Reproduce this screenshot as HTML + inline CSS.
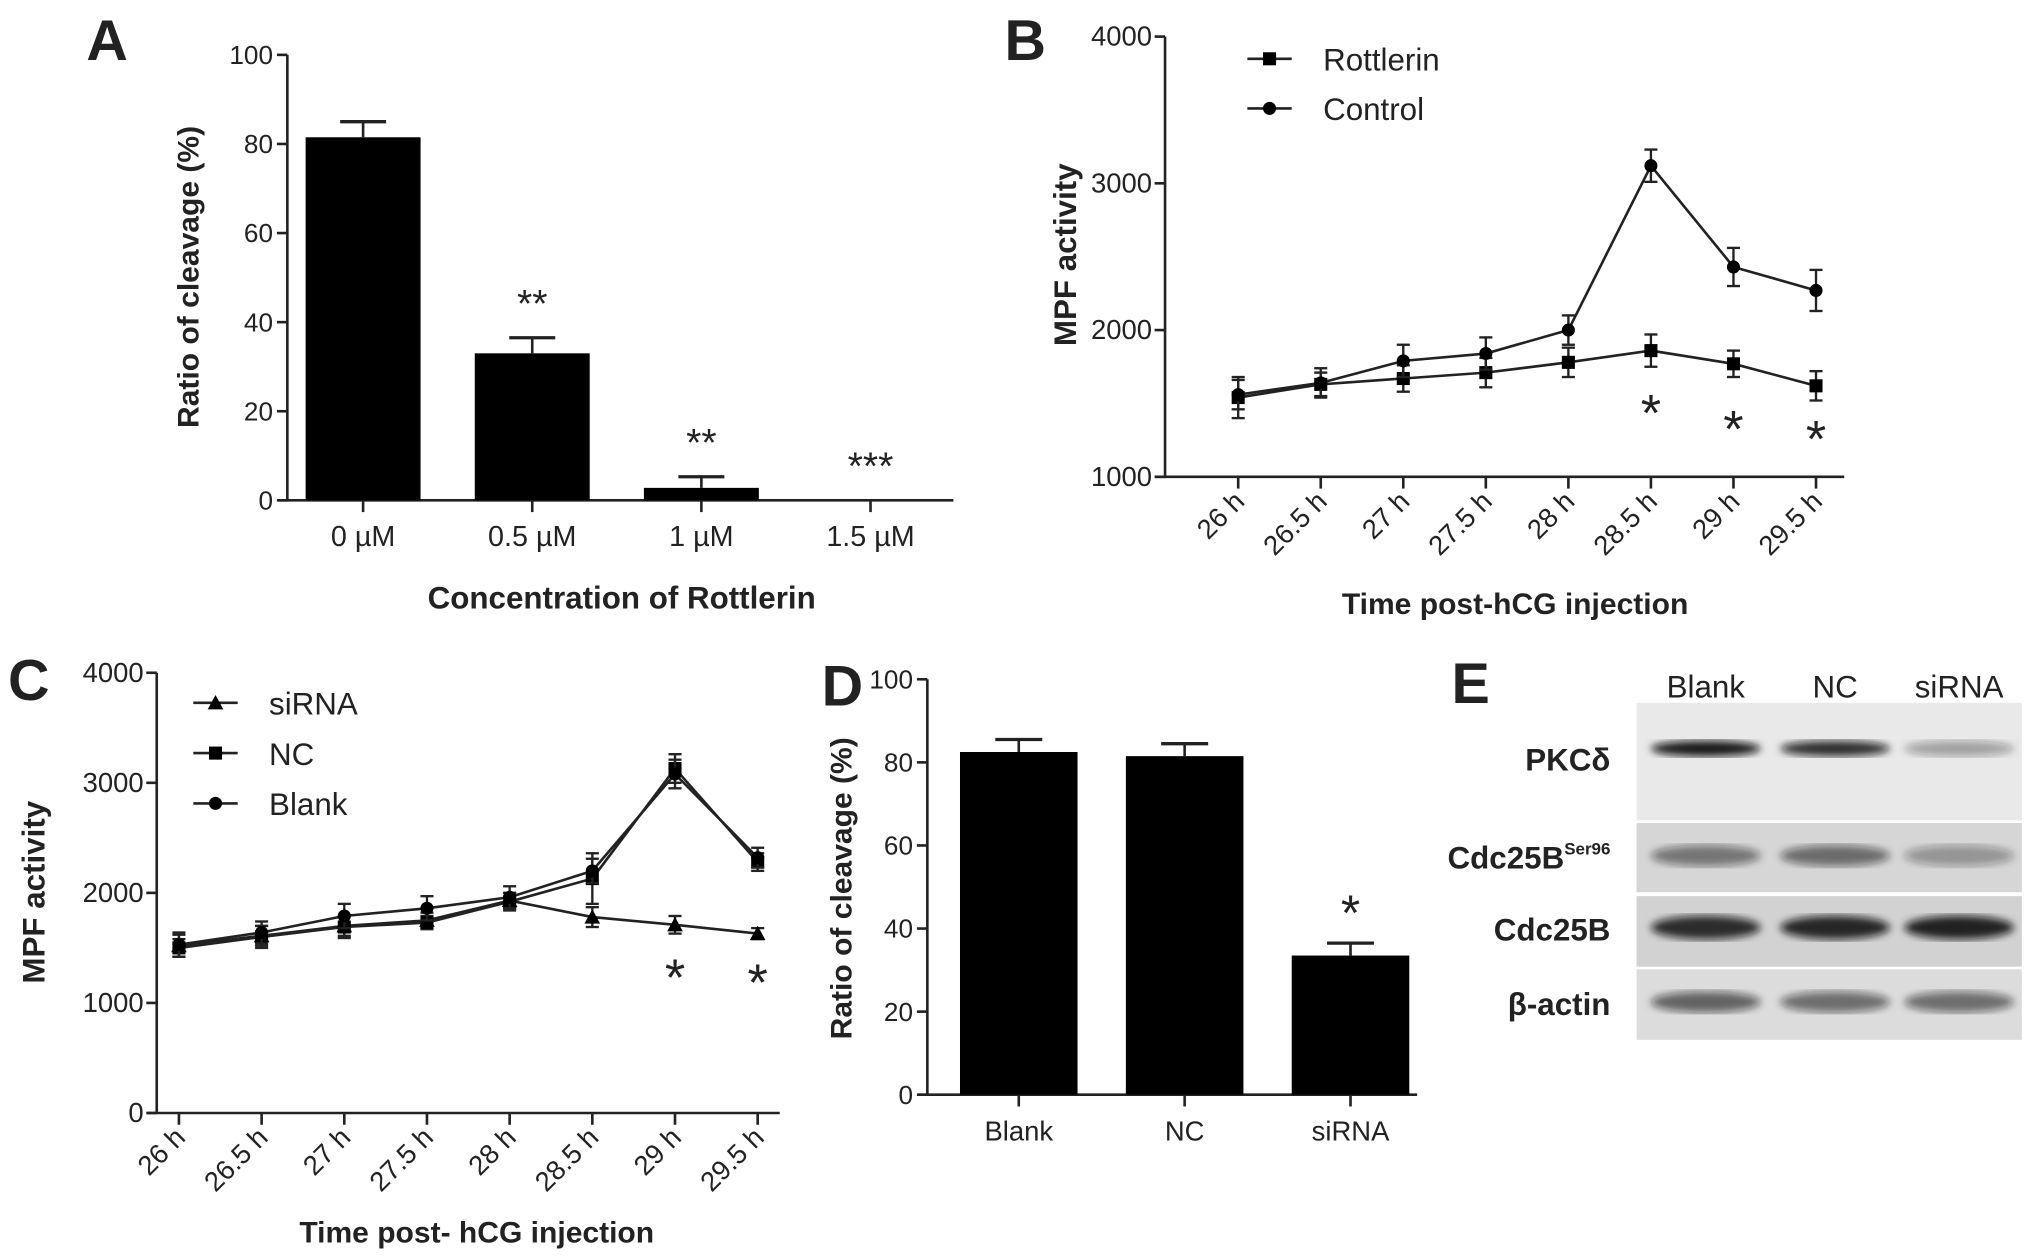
<!DOCTYPE html>
<html><head><meta charset="utf-8">
<style>
html,body{margin:0;padding:0;background:#fff;}
svg{display:block;}
text{font-family:"Liberation Sans Narrow","Liberation Sans",sans-serif;fill:#222;}
.b{font-family:"Liberation Sans",sans-serif;font-weight:bold;}
</style></head>
<body>
<svg id="fig" width="2031" height="1258" viewBox="0 0 1555 963" preserveAspectRatio="none" xmlns="http://www.w3.org/2000/svg">
<defs>
<filter id="blur3"><feGaussianBlur stdDeviation="3"/></filter>
</defs>
<g id="root"></g>
</svg>
<script>
// ---- Panel A data ----
const aCats = ["0 µM","0.5 µM","1 µM","1.5 µM"];
const aVals = [81.5, 33, 2.8, 0];
const aErr = [3.5, 3.5, 2.5, 0];
const aStars = ["", "**", "**", "***"];
const aTicks = [0,20,40,60,80,100];
// ---- Panel B data ----
const bCats = ["26 h","26.5 h","27 h","27.5 h","28 h","28.5 h","29 h","29.5 h"];
const bRott = [1540,1630,1670,1710,1780,1860,1770,1620];
const bRottErr = [140,80,90,100,100,110,90,100];
const bCtrl = [1560,1640,1790,1840,2000,3120,2430,2270];
const bCtrlErr = [100,100,110,110,100,110,130,140];
const bStars = ["","","","","","*","*","*"];
const bTicks = [1000,2000,3000,4000];
// ---- Panel C data ----
const cCats = ["26 h","26.5 h","27 h","27.5 h","28 h","28.5 h","29 h","29.5 h"];
const cSi = [1520,1610,1700,1750,1930,1780,1710,1630];
const cSiErr = [100,90,90,70,70,90,80,50];
const cNC = [1500,1600,1690,1730,1920,2130,3130,2280];
const cNCErr = [80,100,100,60,80,230,130,80];
const cBlank = [1530,1640,1790,1860,1960,2200,3080,2320];
const cBlankErr = [110,100,110,110,100,110,130,90];
const cStars = ["","","","","","","*","*"];
const cTicks = [0,1000,2000,3000,4000];
// ---- Panel D data ----
const dCats = ["Blank","NC","siRNA"];
const dVals = [82.5, 81.5, 33.5];
const dErr = [3, 3, 3];
const dStars = ["","","*"];
const dTicks = [0,20,40,60,80,100];

const NS="http://www.w3.org/2000/svg";
const root=document.getElementById('root');
function mk(tag, attrs, parent, txt){
  const e=document.createElementNS(NS,tag);
  for(const k in attrs) e.setAttribute(k,attrs[k]);
  if(txt!==undefined) e.textContent=txt;
  (parent||root).appendChild(e);
  return e;
}
function grp(name){
  const g=mk('g',{});
  
  
  return g;
}
function lin(x1,y1,x2,y2,p,w){return mk('line',{x1,y1,x2,y2,stroke:'#222','stroke-width':w||2},p);}
function txt(x,y,s,size,p,opt){
  opt=opt||{};
  const a={x,y,'font-size':size,'text-anchor':opt.anchor||'middle'};
  if(opt.cls) a['class']=opt.cls;
  if(opt.tf) a.transform=opt.tf;
  return mk('text',a,p,s);
}
function linScale(d0,d1,r0,r1){return v=>r0+(v-d0)*(r1-r0)/(d1-d0);}

[["A",82,46],["B",785,46],["C",22,536],["D",645,540],["E",1126,538]].forEach(l=>{
  const t=txt(l[1],l[2],l[0],44,root,{cls:'b'});
  
  
});

function barChart(o){
  const g=grp(o.name);
  const y=linScale(o.ymin,o.ymax,o.y0,o.y1);
  const ya=lin(o.ax,o.y1,o.ax,o.y0,g);
  
  o.ticks.forEach(t=>{
    lin(o.ax-8,y(t),o.ax,y(t),g);
    const tl=txt(o.ax-11,y(t)+7,String(t),20,g,{anchor:'end'});
    
  });
  const xa=lin(o.ax-7,o.y0,o.xend,o.y0,g);
  
  o.cats.forEach((c,i)=>{
    const cx=o.xs(i);
    lin(cx,o.y0,cx,o.y0+9,g);
    const tl=txt(cx,o.y0+35,c,o.catSize||21,g,{cls:o.catCls});
    
    const v=o.vals[i], e=o.err[i];
    if(e>0){
      lin(cx,y(v),cx,y(v+e),g,2);
      lin(cx-o.bw*0.2,y(v+e),cx+o.bw*0.2,y(v+e),g,2.5);
    }
    if(v>0){
      const r=mk('rect',{x:cx-o.bw/2,y:y(v),width:o.bw,height:o.y0-y(v),fill:'#000'},g);
      
      
    }
    if(o.stars[i]){
      const s=txt(cx,y(v+e)-o.starGap,o.stars[i],o.starSize,g);
      
    }
  });
  const yt=txt(0,0,o.ytitle,23,g,{cls:'b',tf:`translate(${o.ytx},${o.tyy}) rotate(-90)`});
  
  if(o.xtitle){
    const xt=txt(o.xtx,o.xty,o.xtitle,24,g,{cls:'b'});
    
  }
}

barChart({name:'panel-a-chart',cats:aCats,vals:aVals,err:aErr,stars:aStars,ticks:aTicks,
  ymin:0,ymax:100,y0:383,y1:42,ax:220,xend:730,xs:i=>278+i*129.5,bw:88,
  starSize:30,starGap:16,ytitle:'Ratio of cleavage (%)',ytx:152,tyy:212,
  xtitle:'Concentration of Rottlerin',xtx:476,xty:466,catSize:22});

barChart({name:'panel-d-chart',cats:dCats,vals:dVals,err:dErr,stars:dStars,ticks:dTicks,
  ymin:0,ymax:100,y0:838,y1:520,ax:710,xend:1085,xs:i=>780+i*127,bw:90,
  starSize:38,starGap:10,ytitle:'Ratio of cleavage (%)',ytx:652,tyy:680,catSize:21});

function marker(type,x,y,g){
  let m;
  if(type==='sq') m=mk('rect',{x:x-5,y:y-5,width:10,height:10,fill:'#000'},g);
  else if(type==='ci') m=mk('circle',{cx:x,cy:y,r:5,fill:'#000'},g);
  else m=mk('polygon',{points:`${x},${y-6} ${x-6},${y+5} ${x+6},${y+5}`,fill:'#000'},g);
  return m;
}
function lineChart(o){
  const g=grp(o.name);
  const y=linScale(o.ymin,o.ymax,o.y0,o.y1);
  const ya=lin(o.ax,o.y1,o.ax,o.y0,g);
  
  o.ticks.forEach(t=>{
    lin(o.ax-8,y(t),o.ax,y(t),g);
    const tl=txt(o.ax-10,y(t)+7,String(t),21,g,{anchor:'end'});
    
  });
  const xa=lin(o.ax-7,o.y0,o.xend,o.y0,g);
  
  o.cats.forEach((c,i)=>{
    const cx=o.xs(i);
    lin(cx,o.y0,cx,o.y0+9,g);
    const tl=txt(0,0,c,21,g,{anchor:'end',tf:`translate(${cx+6},${o.y0+20}) rotate(-45)`});
    
  });
  o.series.forEach(s=>{
    const sg=mk('g',{},g);
    
    
    const pts=s.vals.map((v,i)=>`${o.xs(i)},${y(v)}`).join(' ');
    const pl=mk('polyline',{points:pts,fill:'none',stroke:'#222','stroke-width':2},sg);
    
    s.vals.forEach((v,i)=>{
      const cx=o.xs(i), e=s.err[i];
      lin(cx,y(v-e),cx,y(v+e),sg,1.8);
      lin(cx-5,y(v-e),cx+5,y(v-e),sg,1.8);
      lin(cx-5,y(v+e),cx+5,y(v+e),sg,1.8);
      const m=marker(s.m,cx,y(v),sg);
      
    });
  });
  o.stars.forEach((s,i)=>{
    if(!s) return;
    const t=txt(o.xs(i),o.starY[i],s,40,g);
    
  });
  o.series.forEach((s,k)=>{
    const ly=o.legY+k*o.legDy;
    const lg=mk('g',{},g);
    
    
    lin(o.legX,ly,o.legX+34,ly,lg,2);
    marker(s.m,o.legX+17,ly,lg);
    txt(o.legX+58,ly+9,s.label,24,lg,{anchor:'start'}).setAttribute('fill','#444');
  });
  const yt=txt(0,0,o.ytitle,24,g,{cls:'b',tf:`translate(${o.ytx},${o.tyy}) rotate(-90)`});
  
  const xt=txt(o.xtx,o.xty,o.xtitle,23,g,{cls:'b'});
  
}

lineChart({name:'panel-b-chart',cats:bCats,ticks:bTicks,ymin:1000,ymax:4000,y0:365,y1:28,ax:892,xend:1412,
  xs:i=>948+i*63.2,
  series:[{label:'Rottlerin',vals:bRott,err:bRottErr,m:'sq'},{label:'Control',vals:bCtrl,err:bCtrlErr,m:'ci'}],
  stars:bStars,starY:[0,0,0,0,0,330,342,350],
  legX:955,legY:45,legDy:38,ytitle:'MPF activity',ytx:824,tyy:195,
  xtitle:'Time post-hCG injection',xtx:1160,xty:470});

lineChart({name:'panel-c-chart',cats:cCats,ticks:cTicks,ymin:0,ymax:4000,y0:852,y1:515,ax:120,xend:597,
  xs:i=>137+i*63.3,
  series:[{label:'siRNA',vals:cSi,err:cSiErr,m:'tr'},{label:'NC',vals:cNC,err:cNCErr,m:'sq'},{label:'Blank',vals:cBlank,err:cBlankErr,m:'ci'}],
  stars:cStars,starY:[0,0,0,0,0,0,762,766],
  legX:148,legY:538,legDy:38.5,ytitle:'MPF activity',ytx:34,tyy:683,
  xtitle:'Time post- hCG injection',xtx:365,xty:951});

(function(){
  const g=grp('panel-e-western-blot');
  const lanes=['Blank','NC','siRNA'];
  const laneX=[1306,1405,1500];
  lanes.forEach((l,i)=>{
    const t=txt(laneX[i],534,l,24,g);
    
  });
  const rows=[
    {n:'PKCδ',y:538,h:90,bandY:573,bh:12,op:[0.95,0.85,0.35],bg:'#e9e9e9'},
    {n:'Cdc25B',sup:'Ser96',y:630,h:53,bandY:655,bh:16,op:[0.5,0.55,0.35],bg:'#d6d6d6'},
    {n:'Cdc25B',y:686,h:54,bandY:710,bh:18,op:[0.85,0.88,0.9],bg:'#d2d2d2'},
    {n:'β-actin',y:742,h:54,bandY:767,bh:16,op:[0.6,0.55,0.55],bg:'#dcdcdc'}
  ];
  rows.forEach((r,k)=>{
    const rg=mk('g',{},g);
    
    
    mk('rect',{x:1253,y:r.y,width:295,height:r.h,fill:r.bg},rg);
    laneX.forEach((x,i)=>{
      mk('ellipse',{cx:x,cy:r.bandY,rx:42,ry:r.bh/2,fill:'#111','fill-opacity':r.op[i],filter:'url(#blur3)'},rg);
    });
    const t=mk('text',{x:1233,y:(k==0?590:r.bandY+10),'font-size':24,'text-anchor':'end','class':'b'},rg);
    
    t.appendChild(document.createTextNode(r.n));
    if(r.sup){
      mk('tspan',{'font-size':13,dy:-11},t,r.sup);
    }
  });
})();
</script>
</body></html>
